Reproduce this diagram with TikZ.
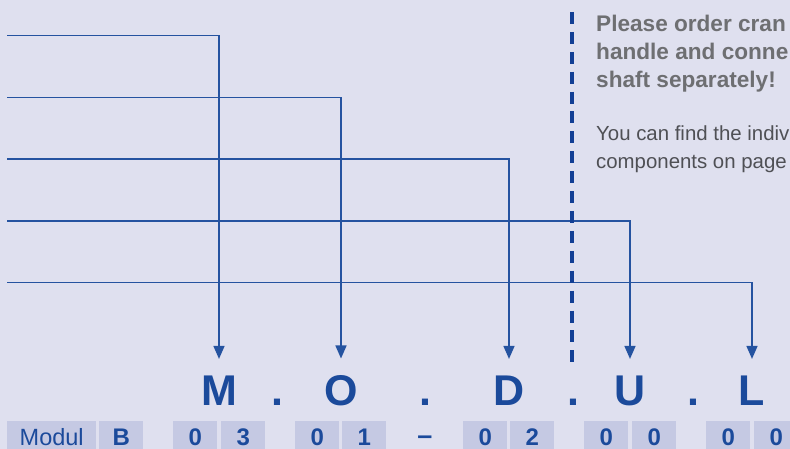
\documentclass[tikz,border=0pt]{standalone}
\usepackage{fontspec}
\setmainfont{Liberation Sans}
\usetikzlibrary{arrows.meta,calc}
\definecolor{bgcol}{HTML}{DFE0EF}
\definecolor{cellcol}{HTML}{C5C9E3}
\definecolor{codeblue}{HTML}{1B4A9B}
\definecolor{linecol}{HTML}{2553A0}
\definecolor{dashcol}{HTML}{123F95}
\definecolor{notegray}{HTML}{6E6F72}
\definecolor{textgray}{HTML}{4F5055}

\tikzset{
  cell/.style={fill=cellcol, text=codeblue, anchor=north west, minimum width=44pt, minimum height=32pt, inner sep=0pt, font=\fontsize{24}{24}\selectfont\bfseries},
  bigletter/.style={text=codeblue, anchor=base, inner sep=0pt, font=\fontsize{43}{43}\selectfont\bfseries},
  lead/.style={linecol, line width=1.5pt, -{Triangle[length=13pt,width=11pt]}, shorten >=17pt},
  note/.style={anchor=base west, inner sep=0pt, align=left}
}

\begin{document}
\begin{tikzpicture}[x=1pt,y=-1pt]
        \useasboundingbox (0,0) rectangle (790,449);
        \fill[bgcol] (0,0) rectangle (790,449);
        \clip (0,0) rectangle (790,449);
        % code letters
        \node[bigletter] (M) at (219,405.7) {M};
        \node[bigletter] (dot1) at (277,405.7) {.};
        \node[bigletter] (O) at (341,405.7) {O};
        \node[bigletter] (dot2) at (425,405.7) {.};
        \node[bigletter] (D) at (509,405.7) {D};
        \node[bigletter] (dot3) at (573,405.7) {.};
        \node[bigletter] (U) at (630,405.7) {U};
        \node[bigletter] (dot4) at (693,405.7) {.};
        \node[bigletter] (L) at (752,405.7) {L};
        % leader lines
        \coordinate (inM) at (7,35.5);
        \coordinate (inO) at (7,97.3);
        \coordinate (inD) at (7,159.1);
        \coordinate (inU) at (7,220.9);
        \coordinate (inL) at (7,282.7);
        \draw[lead] (inM) -| (M);
        \draw[lead] (inO) -| (O);
        \draw[lead] (inD) -| (D);
        \draw[lead] (inU) -| (U);
        \draw[lead] (inL) -| (L);
        % divider
        \coordinate (divtop) at (571.5,12);
        \coordinate (divbot) at (571.5,362);
        \draw[dashcol, line width=4pt, dash pattern=on 12pt off 7.9pt] (divtop) -- (divbot);
        % notes
        \node[note, text=notegray, font=\fontsize{22.6}{28}\selectfont\bfseries] (order) at (596,87.7) {Please order cran\\handle and conne\\shaft separately!};
        \node[note, text=textgray, font=\fontsize{20.4}{27.3}\selectfont] (find) at (596,168.3) {You can find the indiv\\components on page};
        % code cells
        \node[cell, minimum width=89pt, font=\fontsize{23.5}{24}\selectfont] (modul) at (7,421) {Modul};
        \node[cell] (cB) at (99,421) {B};
        \node[cell] (c1) at (173,421) {0};
        \node[cell] (c2) at (221,421) {3};
        \node[cell] (c3) at (295,421) {0};
        \node[cell] (c4) at (342,421) {1};
        \node[text=codeblue, anchor=base, inner sep=0pt, font=\fontsize{27}{27}\selectfont\bfseries] (sep) at (425,444.6) {–};
        \node[cell] (c5) at (463,421) {0};
        \node[cell] (c6) at (510,421) {2};
        \node[cell] (c7) at (584,421) {0};
        \node[cell] (c8) at (632,421) {0};
        \node[cell] (c9) at (706,421) {0};
        \node[cell] (c10) at (754,421) {0};
\end{tikzpicture}
\end{document}
